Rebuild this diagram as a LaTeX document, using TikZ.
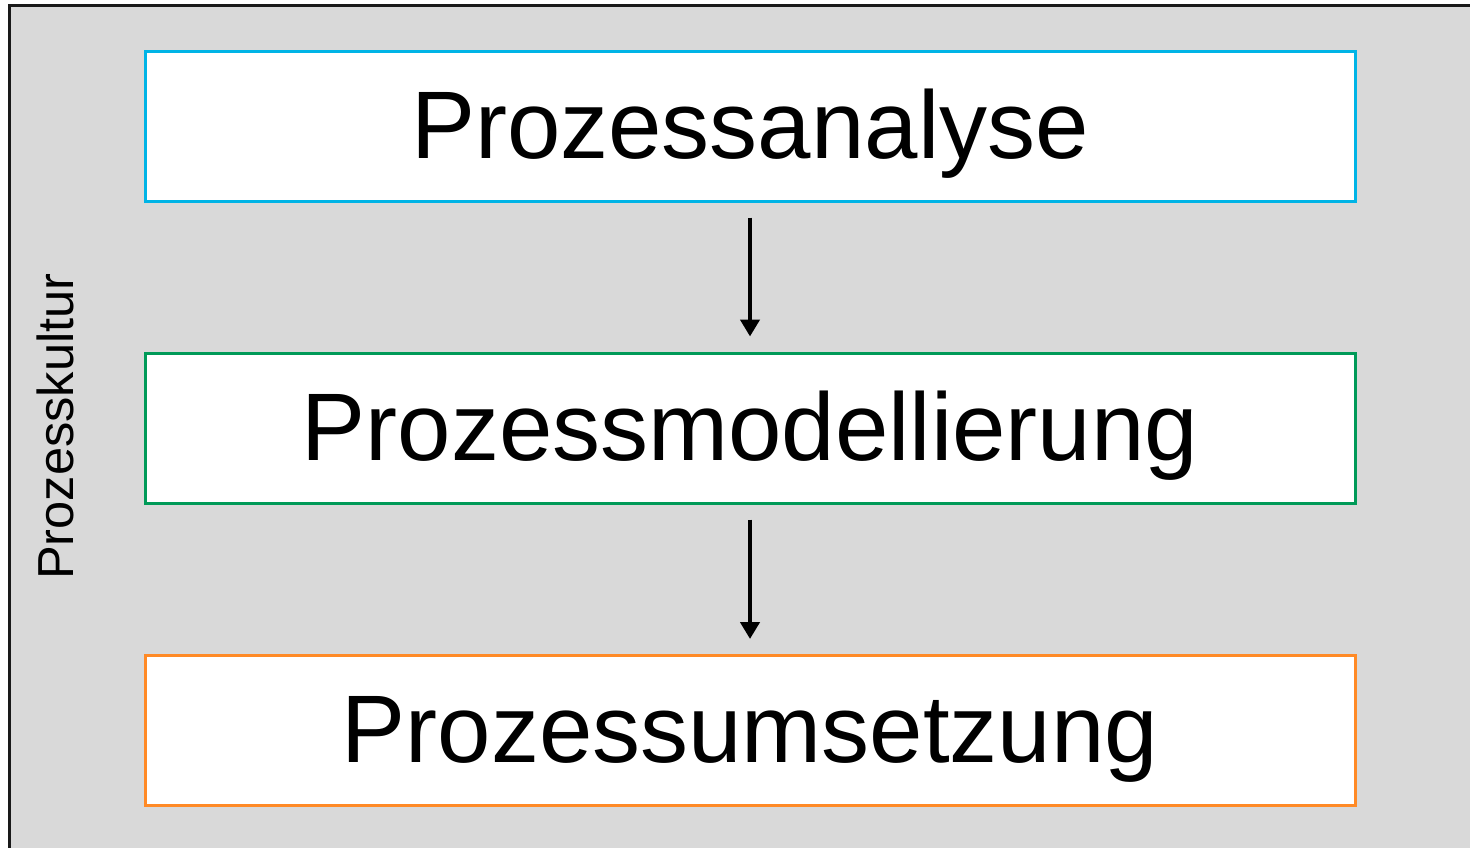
\documentclass[tikz,border=0pt]{standalone}
\usepackage{fontspec}
\setmainfont{Liberation Sans}
\usetikzlibrary{arrows.meta}
\definecolor{bggray}{HTML}{D9D9D9}
\definecolor{boxcyan}{HTML}{00B4E6}
\definecolor{boxgreen}{HTML}{009A58}
\definecolor{boxorange}{HTML}{FF8A26}
\begin{document}
\begin{tikzpicture}[x=0.5pt,y=-0.5pt,
  phase/.style={draw, line width=1.5pt, fill=white, minimum width=605pt, minimum height=75pt, inner sep=0pt, text height=36pt, text depth=4pt, font=\fontsize{48}{58}\selectfont},
  flow/.style={draw=black, line width=2.4pt, -{Triangle[width=9.5pt,length=8.5pt]}, shorten <=7.5pt, shorten >=7.5pt}]
\useasboundingbox (0,0) rectangle (1470,847);
\clip (0,0) rectangle (1470,847);
\draw[fill=bggray, draw=black!90, line width=1.25pt] (9.5,5.5) rectangle (1500,880);
\node[phase, draw=boxcyan] (a) at (750,126) {Prozessanalyse};
\node[phase, draw=boxgreen] (m) at (750,428) {Prozessmodellierung};
\node[phase, draw=boxorange] (u) at (750,730.5) {Prozessumsetzung};
\draw[flow] (a.south) -- (m.north);
\draw[flow] (m.south) -- (u.north);
\node[rotate=90, font=\fontsize{25.3}{30}\selectfont, inner sep=0pt] (k) at (55,426.5) {Prozesskultur};
\end{tikzpicture}
\end{document}
